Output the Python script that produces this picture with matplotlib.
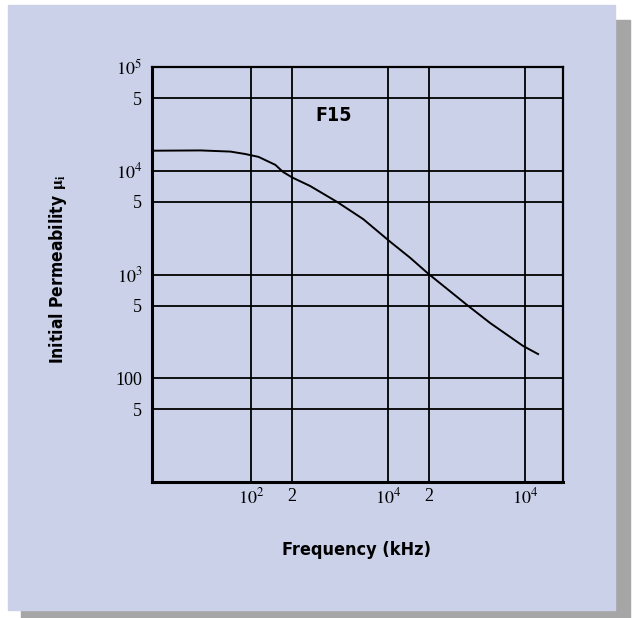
import matplotlib
matplotlib.use("Agg")
import matplotlib.pyplot as plt
from matplotlib.patches import Rectangle

# curve
freq = [19, 43, 71, 91, 114, 127, 151, 172, 201, 271, 427, 661, 1040,
        1455, 1970, 3790, 5580, 9700, 12500]
mu_i = [15600, 15700, 15300, 14500, 13600, 12700, 11400, 9730, 8600,
        7130, 5000, 3420, 2070, 1450, 1020, 508, 341, 205, 171]

x_ticks = [100, 200, 1000, 2000, 10000]
x_tick_labels = [r"$10^2$", "2", r"$10^4$", "2", r"$10^4$"]
y_ticks = [50, 100, 500, 1000, 5000, 10000, 50000, 100000]
y_tick_labels = ["5", "100", "5", r"$10^3$", "5", r"$10^4$", "5", r"$10^5$"]

panel_color = "#ccd1ea"
shadow_color = "#a6a6a6"
bold_family = ["Liberation Sans Narrow", "DejaVu Sans"]

plt.rcParams["mathtext.fontset"] = "stix"

fig = plt.figure(figsize=(6.32, 6.18), dpi=100)
fig.patch.set_facecolor("white")

W, H = 632, 618
# drop shadow and panel, kept under the axes
fig.patches.append(Rectangle((21 / W, 0), (630 - 21) / W, (618 - 20) / H,
                             transform=fig.transFigure, color=shadow_color, zorder=-3))
fig.patches.append(Rectangle((8 / W, 1 - 610 / H), (615 - 8) / W, (610 - 5) / H,
                             transform=fig.transFigure, color=panel_color, zorder=-2))

ax = fig.add_axes([152 / W, 1 - 482 / H, (563 - 152) / W, (482 - 67) / H])
ax.set_facecolor("none")
ax.set_xscale("log")
ax.set_yscale("log")
ax.set_xlim(19, 19000)
ax.set_ylim(10, 100000)

ax.plot(freq, mu_i, color="black", lw=1.4, solid_joinstyle="round")

ax.set_xticks(x_ticks)
ax.set_xticklabels(x_tick_labels)
ax.set_yticks(y_ticks)
ax.set_yticklabels(y_tick_labels)
ax.minorticks_off()
ax.tick_params(length=0, labelsize=13)
ax.tick_params(axis="x", pad=4)
ax.tick_params(axis="y", pad=7)
for lab in ax.get_xticklabels() + ax.get_yticklabels():
    lab.set_family("Liberation Serif")

for v in x_ticks:
    ax.axvline(v, color="black", lw=1.3)
for v in y_ticks:
    ax.axhline(v, color="black", lw=1.3)

for side in ["left", "bottom"]:
    ax.spines[side].set_linewidth(2.2)
for side in ["top", "right"]:
    ax.spines[side].set_linewidth(1.6)

ax.text(400, 34400, "F15", ha="center", va="center", fontsize=14,
        fontweight="bold", fontstretch="condensed", family=bold_family)

fig.text(357 / W, 1 - 550 / H, "Frequency (kHz)", ha="center", va="center",
         fontsize=13, fontweight="bold", fontstretch="condensed", family=bold_family)
fig.text(58 / W, 1 - 269 / H, r"Initial Permeability $\mathbf{\mu}_\mathbf{i}$",
         ha="center", va="center", rotation=90, fontsize=12.5,
         fontweight="bold", fontstretch="condensed", family=bold_family)

fig.savefig("out.png", dpi=100)
